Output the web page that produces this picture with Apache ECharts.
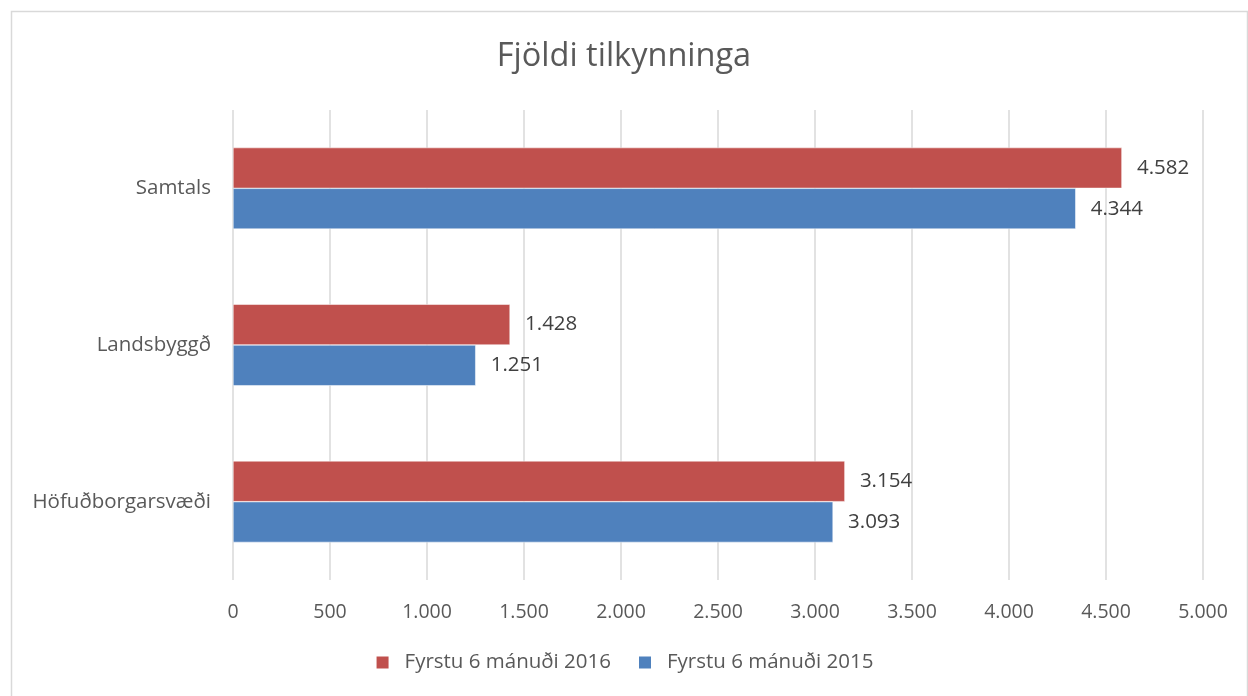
<!DOCTYPE html>
<html>
<head>
<meta charset="utf-8">
<script src="https://cdn.jsdelivr.net/npm/echarts@6/dist/echarts.min.js"></script>
<style>
  html, body { margin: 0; padding: 0; background: #fff; }
  #chart { width: 1248px; height: 696px; }
</style>
</head>
<body>
<div id="chart"></div>
<script>
var categories = ['Höfuðborgarsvæði', 'Landsbyggð', 'Samtals'];
var seriesNames = ['Fyrstu 6 mánuði 2016', 'Fyrstu 6 mánuði 2015'];
var values2016 = [3154, 1428, 4582];
var values2015 = [3093, 1251, 4344];
var colors = ['#C0504D', '#4F81BD'];

// punktur sem þúsundaskil
function fmt(v) {
	return String(v).replace(/\B(?=(\d{3})+(?!\d))/g, '.');
}

var font = '"Open Sans", "Noto Sans", sans-serif';
var myChart = echarts.init(document.getElementById('chart'));

function barSeries(name, data, color) {
	return {
		name: name,
		type: 'bar',
		data: data,
		barGap: '0%',
		barCategoryGap: '48%',
		itemStyle: { color: color, borderColor: '#fff', borderWidth: 0.5 },
		label: {
			show: true, position: 'right', distance: 15,
			color: '#404040', fontSize: 20.5, fontFamily: font,
			formatter: function (p) { return fmt(p.value); }
		}
	};
}

var option = {
	animation: false,
	backgroundColor: '#fff',
	title: {
		text: 'Fjöldi tilkynninga',
		left: 'center',
		top: 35,
		textStyle: { color: '#595959', fontSize: 32.5, fontWeight: 'normal', fontFamily: font }
	},
	graphic: [{
		type: 'rect',
		shape: { x: 11.5, y: 11.5, width: 1236, height: 700 },
		style: { fill: 'none', stroke: '#d9d9d9', lineWidth: 1.5 },
		silent: true
	}],
	legend: {
		bottom: 18,
		left: 'center',
		itemWidth: 14,
		itemHeight: 14,
		itemGap: 26,
		icon: 'rect',
		data: seriesNames,
		textStyle: { color: '#595959', fontSize: 20.5, fontFamily: font, padding: [0, 0, 0, 10] }
	},
	grid: { left: 233, right: 45, top: 110, bottom: 116, containLabel: false },
	xAxis: {
		type: 'value',
		min: 0,
		max: 5000,
		interval: 500,
		axisLine: { show: false },
		axisTick: { show: false },
		axisLabel: {
			color: '#595959', fontSize: 19.5, fontFamily: font, margin: 22,
			formatter: function (v) { return fmt(v); }
		},
		splitLine: { lineStyle: { color: '#d9d9d9', width: 1.5 } }
	},
	yAxis: {
		type: 'category',
		data: categories,
		axisLine: { show: false },
		axisTick: { show: false },
		axisLabel: { color: '#595959', fontSize: 20.5, fontFamily: font, margin: 22 }
	},
	series: [
		barSeries(seriesNames[0], values2016, colors[0]),
		barSeries(seriesNames[1], values2015, colors[1])
	]
};
myChart.setOption(option);
</script>
</body>
</html>
